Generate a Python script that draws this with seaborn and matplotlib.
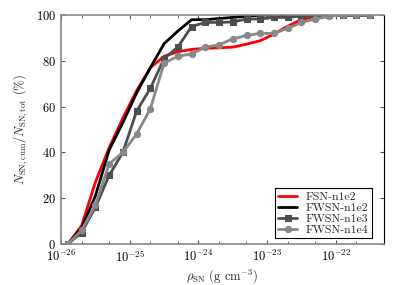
import numpy as np
import matplotlib
matplotlib.use("Agg")
import matplotlib.pyplot as plt
import matplotlib.ticker as mticker
import seaborn as sns

# log10 of SN density grid (g cm^-3)
log_rho = [-25.9, -25.7, -25.5, -25.3, -25.1, -24.9, -24.7, -24.5, -24.3, -24.1,
           -23.9, -23.7, -23.5, -23.3, -23.1, -22.9, -22.7, -22.5, -22.3, -22.1,
           -21.9, -21.7, -21.5]

# cumulative fraction of SNe (%)
fsn_n1e2 = [0, 8, 27, 42, 55, 67, 77, 82, 84, 85, 85.5, 85.7, 86, 87.3, 88.8,
            91.7, 95.2, 98, 99.5, 100, 100, 100, 100]
fwsn_n1e2 = [0, 7, 21, 41, 53, 66, 77, 87.5, 93, 98, 98, 98.5, 99, 99.5, 100,
             100, 100, 100, 100, 100, 100, 100, 100]
fwsn_n1e3 = [0, 5, 16, 30, 40, 58, 68, 81, 86, 95, 96.8, 96.8, 97, 98.3, 98.3,
             99, 99, 99.6, 99.6, 100, 100, 100, 100]
fwsn_n1e4 = [0, 6, 17, 35, 40, 48, 59, 79, 82, 83, 86, 87, 89.6, 91.1, 92,
             92, 94.2, 96.8, 98.3, 99.5, 100, 100, 100]

labels = ["FSN-n1e2", "FWSN-n1e2", "FWSN-n1e3", "FWSN-n1e4"]
colors = ["#ff0000", "#000000", "#4d4d4d", "#888888"]
markers = [None, None, "s", "o"]

x_ticks = [1e-26, 1e-25, 1e-24, 1e-23, 1e-22]
y_ticks = [0, 20, 40, 60, 80, 100]

sns.set_style("ticks")
plt.rcParams["font.family"] = ["cmr10", "DejaVu Serif"]
plt.rcParams["mathtext.fontset"] = "cm"
plt.rcParams["axes.formatter.use_mathtext"] = True
plt.rcParams["axes.unicode_minus"] = False

rho = 10.0 ** np.array(log_rho)

fig = plt.figure(figsize=(4.07, 2.85), dpi=100)
ax = fig.add_axes([0.150, 0.144, 0.793, 0.803])

for vals, lab, col, mk in zip([fsn_n1e2, fwsn_n1e2, fwsn_n1e3, fwsn_n1e4],
                              labels, colors, markers):
    sns.lineplot(x=rho, y=vals, ax=ax, color=col, linewidth=2, label=lab,
                 marker=mk, markersize=4.5, markeredgecolor=col)

ax.set_xscale("log")
ax.set_xlim(1e-26, 5e-22)
ax.set_ylim(0, 100)
ax.xaxis.set_major_locator(mticker.FixedLocator(x_ticks))
ax.xaxis.set_major_formatter(mticker.LogFormatterMathtext())
ax.xaxis.set_minor_locator(mticker.LogLocator(base=10, subs=(2.0, 5.0), numticks=20))
ax.xaxis.set_minor_formatter(mticker.NullFormatter())
ax.set_yticks(y_ticks)

ax.tick_params(which="both", direction="in", top=True, right=True,
               labelsize=9, colors="#555555", labelcolor="black")
ax.tick_params(which="major", length=3)
ax.tick_params(which="minor", length=2)

for side in ["left", "bottom", "top"]:
    ax.spines[side].set_color("#888888")
    ax.spines[side].set_linewidth(1.2)
ax.spines["right"].set_color("black")

ax.set_xlabel(r"$\rho_{\rm SN}$ (g cm$^{-3}$)", fontsize=9, labelpad=2)
ax.set_ylabel(r"$N_{\rm SN,cum}/N_{\rm SN,tot}$ (%)", fontsize=9)

leg = ax.legend(loc="lower right", bbox_to_anchor=(0.962, 0.025), borderaxespad=0,
                fontsize=8.5, labelspacing=0.05, handlelength=1.6, handletextpad=0.7,
                borderpad=0.3, fancybox=False, framealpha=1, edgecolor="black")
leg.get_frame().set_linewidth(0.8)

fig.savefig("out.png", dpi=100)
